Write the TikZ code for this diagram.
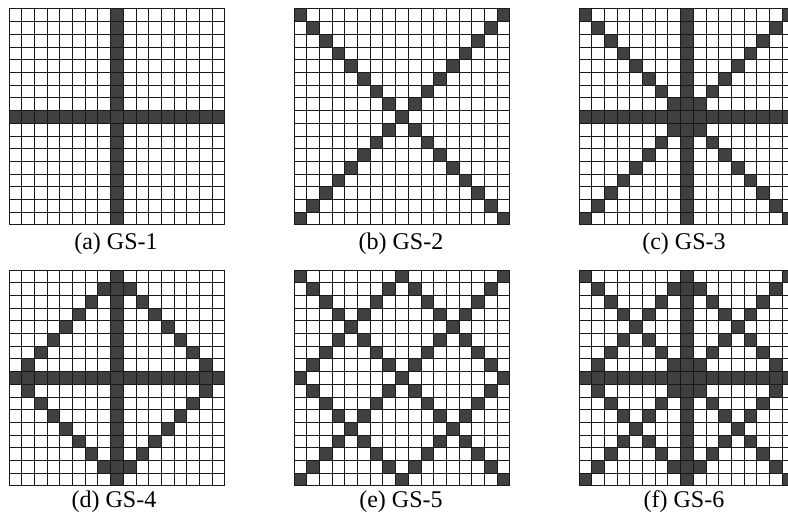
\documentclass[tikz,border=0pt]{standalone}
\usepackage{fontspec}
\setmainfont{Liberation Serif}
\newcommand\gsgrid[5]{%
  \begin{scope}[shift={(#1,#2)}]
  \foreach \i in {0,...,16}{%
    \foreach \j in {0,...,16}{%
      \pgfmathtruncatemacro\gsf{#3*((\i==8)||(\j==8)) + #4*((\i==\j)||(\i+\j==16)) + #5*((abs(\i-8)+abs(\j-8))==8)}%
      \ifnum\gsf>0 \fill[cellfill] (\j*12.7,\i*12.7) rectangle ++(12.7,12.7);\fi
    }%
  }
  \foreach \k in {0,...,17}{%
    \draw[gridline] (\k*12.7,0) -- (\k*12.7,215.9);
    \draw[gridline] (0,\k*12.7) -- (215.9,\k*12.7);
  }
  \end{scope}%
}
\begin{document}
\begin{tikzpicture}[x=1pt,y=-1pt,
  cellfill/.style={fill=black!75},
  gridline/.style={draw=black!90, line width=1pt},
  lab/.style={font=\fontsize{24}{28}\selectfont, anchor=center, inner sep=0pt}]
\useasboundingbox (0,0) rectangle (788,519);
\clip (0,0) rectangle (788,519);
\fill[white] (0,0) rectangle (788,519);
\gsgrid{9}{9}{1}{0}{0}
\gsgrid{294}{9}{0}{1}{0}
\gsgrid{579}{9}{1}{1}{0}
\gsgrid{9}{270}{1}{0}{1}
\gsgrid{294}{270}{0}{1}{1}
\gsgrid{579}{270}{1}{1}{1}
\node[lab] (la) at (116,244) {(a) GS-1};
\node[lab] (lb) at (401,244) {(b) GS-2};
\node[lab] (lc) at (684,244) {(c) GS-3};
\node[lab] (ld) at (114,502) {(d) GS-4};
\node[lab] (le) at (401,502) {(e) GS-5};
\node[lab] (lf) at (684,502) {(f) GS-6};
\end{tikzpicture}
\end{document}
